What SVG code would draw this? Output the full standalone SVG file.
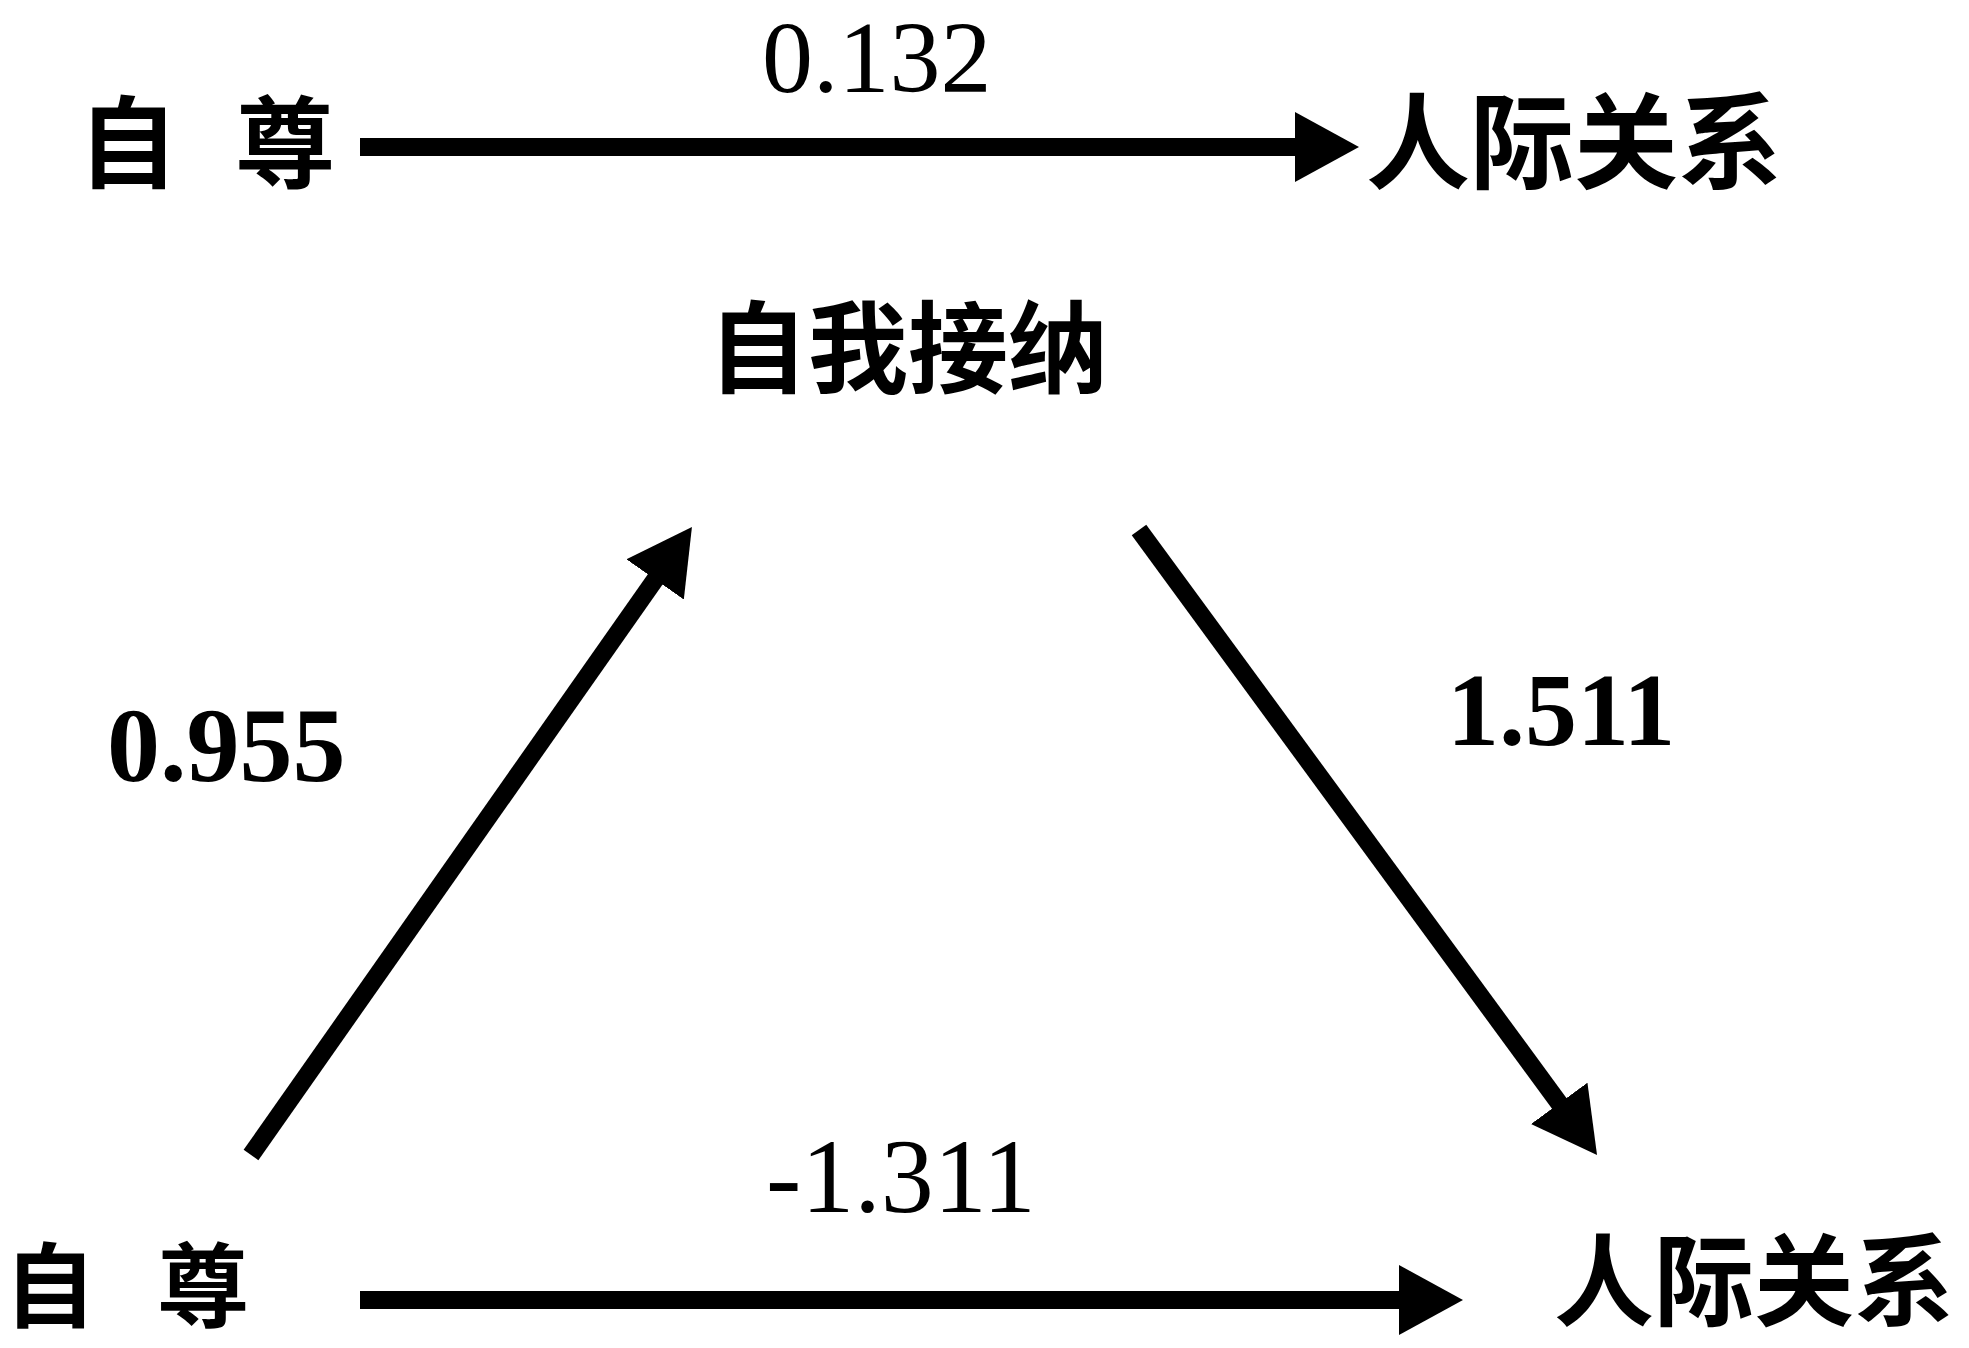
<svg xmlns="http://www.w3.org/2000/svg" width="1969" height="1348" viewBox="0 0 1969 1348">
<style>
.cjk{font-family:"Noto Sans CJK SC","Noto Sans CJK JP",sans-serif;font-size:100px;font-weight:700;fill:#000}
.num{font-family:"Liberation Serif","Times New Roman",serif;font-size:106px;fill:#000}
.conn line{stroke:#000;stroke-width:18;fill:none;marker-end:url(#ah)}
</style>
<defs>
<marker id="ah" viewBox="0 0 64 70" refX="34" refY="35" markerWidth="64" markerHeight="70" markerUnits="userSpaceOnUse" orient="auto">
<path d="M0,0 L64,35 L0,70 Z" fill="#000"/>
</marker>
</defs>
<rect width="1969" height="1348" fill="#fff"/>
<g id="connectors" class="conn">
<line x1="360" y1="147" x2="1329" y2="147"/>
<line x1="251" y1="1155" x2="674.7" y2="551.6"/>
<line x1="1139" y1="530" x2="1579.3" y2="1130.8"/>
<line x1="360" y1="1300" x2="1433" y2="1300"/>
</g>
<g id="node-top-ziZun"><text class="cjk" x="78" y="180">自 <tspan x="235">尊</tspan></text></g>
<g id="node-top-renji"><text class="cjk" x="1366" y="181" style="font-size:104px">人际关系</text></g>
<g id="node-ziwojiena"><text class="cjk" x="708" y="385">自我接纳</text></g>
<g id="node-bottom-ziZun"><text class="cjk" x="4" y="1320" style="font-size:92px">自 <tspan x="157">尊</tspan></text></g>
<g id="node-bottom-renji"><text class="cjk" x="1554" y="1318" style="font-size:100px">人际关系</text></g>
<g id="labels">
<text class="num" x="762" y="92" style="font-size:102px">0.132</text>
<text class="num" x="107" y="781" font-weight="bold">0.955</text>
<text class="num" x="1447" y="745" font-weight="bold" style="font-size:104px">1.511</text>
<text class="num" x="766" y="1212">-1.311</text>
</g>
</svg>
